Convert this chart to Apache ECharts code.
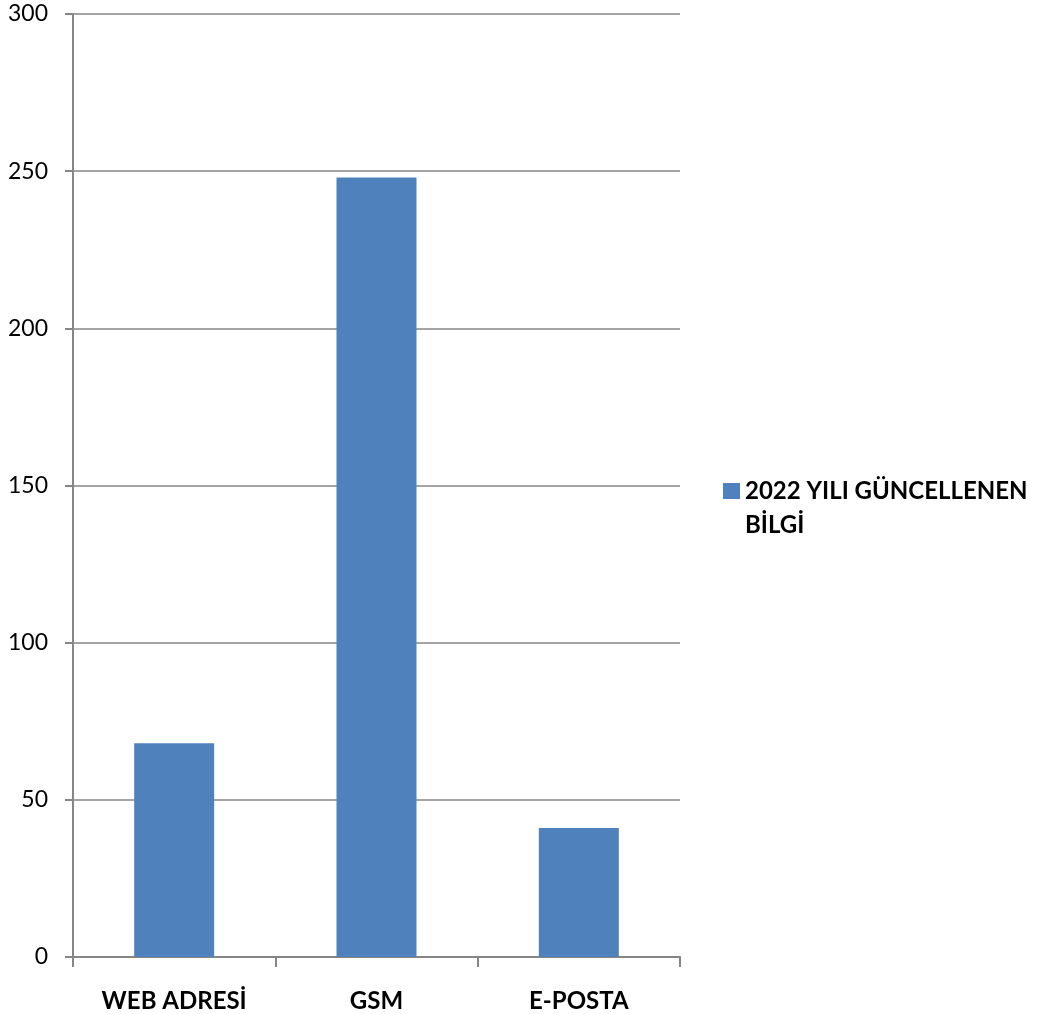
<!DOCTYPE html>
<html>
<head>
<meta charset="utf-8">
<script src="https://cdn.jsdelivr.net/npm/echarts@6/dist/echarts.min.js"></script>
<style>html,body{margin:0;padding:0;background:#fff;}#c{width:1050px;height:1014px;}</style>
</head>
<body>
<div id="c"></div>
<script>
const categories = ['WEB ADRESİ', 'GSM', 'E-POSTA'];
const seriesName = '2022 YILI GÜNCELLENEN BİLGİ';
const values = [68, 248, 41];
const yTicks = [0, 50, 100, 150, 200, 250, 300];

const FONT = 'Lato, "Open Sans", sans-serif';
const chart = echarts.init(document.getElementById('c'));
chart.setOption({
  animation: false,
  backgroundColor: '#ffffff',
  grid: { left: 73, right: 370, top: 14, bottom: 57, containLabel: false },
  legend: {
    orient: 'vertical',
    left: 718, top: 435,
    itemWidth: 17, itemHeight: 16, itemGap: 0,
    icon: 'rect',
    formatter: function () { return ' \n2022 YILI GÜNCELLENEN\nBİLGİ'; },
    textStyle: { fontFamily: FONT, fontSize: 24, fontWeight: 'bold', color: '#000', lineHeight: 34 },
    data: [seriesName]
  },
  xAxis: {
    type: 'category',
    data: categories,
    axisLine: { show: true, lineStyle: { color: '#868686', width: 2 } },
    axisTick: { show: true, alignWithLabel: false, length: 10, lineStyle: { color: '#868686', width: 2 } },
    axisLabel: { margin: 32, fontFamily: FONT, fontSize: 24, fontWeight: 'bold', color: '#000' },
    splitLine: { show: false }
  },
  yAxis: {
    type: 'value',
    min: 0, max: 300, interval: 50,
    axisLine: { show: true, lineStyle: { color: '#868686', width: 2 } },
    axisTick: { show: true, length: 8, lineStyle: { color: '#868686', width: 2 } },
    axisLabel: { margin: 25, fontFamily: FONT, fontSize: 23, color: '#000',
      formatter: function (v) { return yTicks.indexOf(v) >= 0 ? String(v) : ''; } },
    splitLine: { show: true, lineStyle: { color: '#868686', width: 1.5 } }
  },
  series: [{
    name: seriesName,
    type: 'bar',
    data: values,
    barWidth: 80,
    itemStyle: { color: '#4F81BD' }
  }]
});
</script>
</body>
</html>
